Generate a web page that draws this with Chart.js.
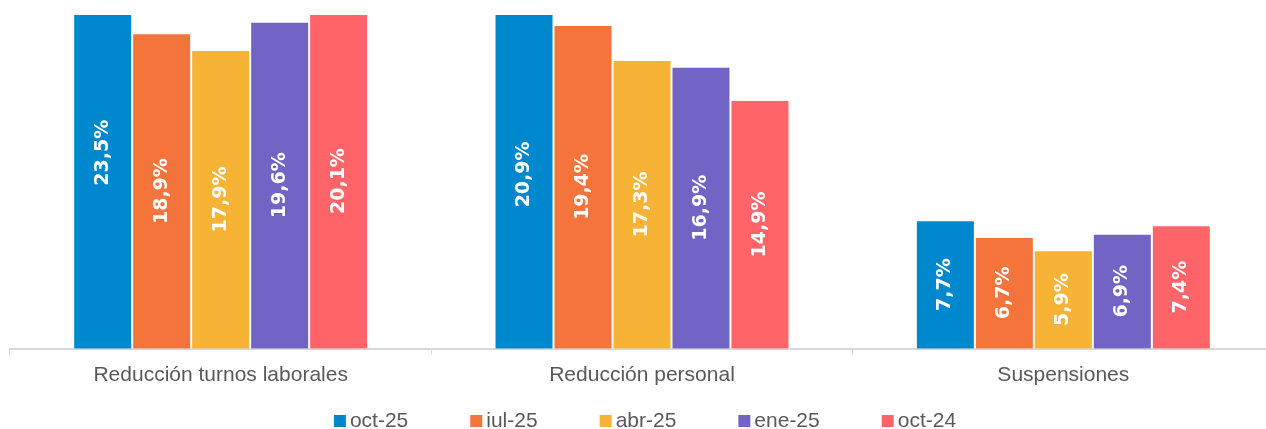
<!DOCTYPE html>
<html>
<head>
<meta charset="utf-8">
<script src="https://cdn.jsdelivr.net/npm/chart.js@4.4.1/dist/chart.umd.min.js"></script>
<style>
  html, body { margin: 0; padding: 0; background: #fff; overflow: hidden; }
  #wrap { position: relative; width: 1274px; height: 429px; }
</style>
</head>
<body>
<div id="wrap"><canvas id="chart"></canvas></div>
<script>
const categories = ['Reducción turnos laborales', 'Reducción personal', 'Suspensiones'];
const seriesNames = ['oct-25', 'iul-25', 'abr-25', 'ene-25', 'oct-24'];
const oct25 = [23.5, 20.9, 7.7];
const iul25 = [18.9, 19.4, 6.7];
const abr25 = [17.9, 17.3, 5.9];
const ene25 = [19.6, 16.9, 6.9];
const oct24 = [20.1, 14.9, 7.4];
const seriesColors = ['#0088ce', '#f4743b', '#f6b335', '#7264c4', '#ff6468'];

const allValues = [oct25, iul25, abr25, ene25, oct24];
const textFont = '21px "Liberation Sans", Arial';

// white rotated labels in the middle of each (full) bar
const barLabels = {
  id: 'barLabels',
  afterDatasetsDraw(chart) {
    const ctx = chart.ctx;
    ctx.save();
    ctx.fillStyle = '#ffffff';
    ctx.font = 'bold 19px "DejaVu Sans"';
    ctx.textAlign = 'center';
    ctx.textBaseline = 'middle';
    chart.data.datasets.forEach((ds, i) => {
      chart.getDatasetMeta(i).data.forEach((bar, j) => {
        const txt = ds.data[j].toFixed(1).replace('.', ',') + '%';
        const cy = (bar.y + bar.base) / 2;
        ctx.save();
        ctx.translate(bar.x, cy);
        ctx.rotate(-Math.PI / 2);
        ctx.fillText(txt, 0, 0);
        ctx.restore();
      });
    });
    ctx.restore();
  }
};

// legend drawn by hand so the box/text gaps match the original
const bottomLegend = {
  id: 'bottomLegend',
  afterDraw(chart) {
    const ctx = chart.ctx;
    const box = 12, gap = 4, spacing = 62;
    ctx.save();
    ctx.font = textFont;
    ctx.textBaseline = 'middle';
    const items = chart.data.datasets.map(ds => ({
      label: ds.label, color: ds.backgroundColor, w: ctx.measureText(ds.label).width
    }));
    const total = items.reduce((s, it) => s + box + gap + it.w, 0) + spacing * (items.length - 1);
    const area = chart.chartArea;
    let x = (area.left + area.right) / 2 - total / 2 + 3;
    const y = 421;
    items.forEach(it => {
      ctx.fillStyle = it.color;
      ctx.fillRect(x, y - box / 2, box, box);
      ctx.fillStyle = '#595959';
      ctx.fillText(it.label, x + box + gap, y);
      x += box + gap + it.w + spacing;
    });
    ctx.restore();
  }
};

new Chart(document.getElementById('chart'), {
  type: 'bar',
  data: {
    labels: categories,
    datasets: seriesNames.map((name, i) => ({
      label: name,
      data: allValues[i],
      backgroundColor: seriesColors[i],
      borderColor: 'rgba(255,255,255,0.35)',
      borderWidth: 1,
      categoryPercentage: 0.7,
      barPercentage: 1.0,
    })),
  },
  options: {
    responsive: true,
    maintainAspectRatio: false,
    animation: false,
    layout: { padding: { top: 15, left: 10, right: 0, bottom: 33 } },
    scales: {
      x: {
        grid: {
          offset: true,
          drawOnChartArea: false,
          drawTicks: true,
          tickLength: 6,
          color: '#d9d9d9',
        },
        border: { color: '#d9d9d9', width: 2 },
        ticks: {
          color: '#595959',
          font: { family: '"Liberation Sans", Arial', size: 21 },
          padding: 8,
        },
      },
      y: {
        display: false,
        min: 0,
        max: 20,
      },
    },
    plugins: {
      legend: { display: false },
      tooltip: { enabled: false },
    },
  },
  plugins: [barLabels, bottomLegend],
});
</script>
</body>
</html>
